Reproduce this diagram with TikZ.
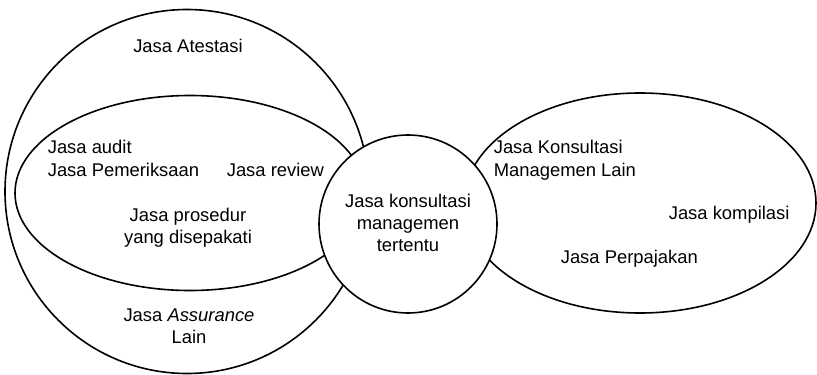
\documentclass[tikz,border=0pt]{standalone}
\usepackage{fontspec}
\setmainfont{Liberation Sans}
\begin{document}
\begin{tikzpicture}[x=0.5pt,y=-0.5pt,line width=0.8pt,
    every node/.style={font=\fontsize{9.2}{10.8}\selectfont,inner sep=0pt},
    lbl/.style={anchor=base west},
    mlbl/.style={anchor=base,align=center}]
    \useasboundingbox (0,0) rectangle (817,374);
    % Jasa Atestasi dan Assurance
    \draw (187,191.5) ellipse [x radius=182, y radius=182];
    \draw (190,193) ellipse [x radius=175, y radius=97.5];
    % Jasa non-assurance
    \draw (640,203) ellipse [x radius=176, y radius=110];
    \draw [fill=white] (408,224) circle [radius=89];
    \node [mlbl] (atestasi) at (188,53) {Jasa Atestasi};
    \node [lbl] (audit) at (47,153) {Jasa audit};
    \node [lbl] (periksa) at (47,176) {Jasa Pemeriksaan};
    \node [lbl] (review) at (226,176) {Jasa review};
    \node [mlbl] (prosedur) at (188,243) {Jasa prosedur\\yang disepakati};
    \node [mlbl] (assurance) at (189,343) {Jasa \textit{Assurance}\\Lain};
    \node [mlbl] (konsultasi) at (408,251) {Jasa konsultasi\\managemen\\tertentu};
    \node [lbl] (lain) at (493,153) {Jasa Konsultasi};
    \node [lbl] (lain2) at (493,176) {Managemen Lain};
    \node [lbl] (kompilasi) at (668,219) {Jasa kompilasi};
    \node [lbl] (pajak) at (560,263) {Jasa Perpajakan};
\end{tikzpicture}
\end{document}
